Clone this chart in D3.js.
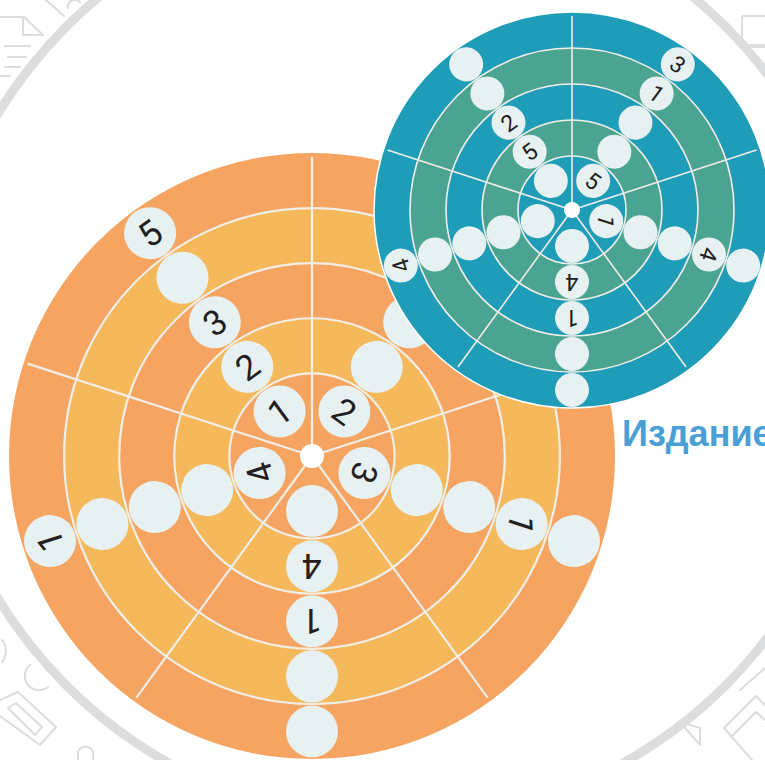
<!DOCTYPE html>
<html>
<head>
<meta charset="utf-8">
<title>Круговые поля</title>
<style>
  body { margin: 0; background: #fff; }
  svg { display: block; }
  .ring-line { fill: none; }
  .deco { fill: none; stroke: #dcdddf; stroke-linejoin: round; stroke-linecap: round; }
  .peg text { font-family: Roboto, "Liberation Sans", sans-serif; }
</style>
</head>
<body>
<svg width="765" height="760"></svg>
<script src="https://cdn.jsdelivr.net/npm/d3@7"></script>
<script>
// ---- data ----
// rays where the pegs sit (degrees clockwise from "up"), halfway between spokes
var rayAngles = [36, 108, 180, 252, 324];
// spokes between the sectors
var spokeAngles = [0, 72, 144, 216, 288];
// peg steps along each ray (1 = inner disc ... 5 = outer ring)
var pegSteps = [1, 2, 3, 4, 5];
// ring borders, in steps
var ringEdges = [1.5, 2.5, 3.5, 4.5];
// bands from the outside in, in steps
var bandOuter = [5.5, 4.5, 3.5, 2.5, 1.5];

// labels on each ray, inner to outer ("" = empty peg)
var orangeLabels = [
  ["2", "", "", "", ""],
  ["3", "", "", "1", ""],
  ["", "4", "1", "", ""],
  ["4", "", "", "", "1"],
  ["1", "2", "3", "", "5"]
];
var tealLabels = [
  ["5", "", "", "1", "3"],
  ["1", "", "", "4", ""],
  ["", "4", "1", "", ""],
  ["", "", "", "", "4"],
  ["", "5", "2", "", ""]
];

var svg = d3.select("svg");

// background decoration: big gray ring and faint icons
var deco = svg.append("g");
deco.append("circle")
    .attr("cx", 396).attr("cy", 356).attr("r", 466)
    .attr("fill", "none").attr("stroke", "#dcdddf").attr("stroke-width", 9);
var decoPaths = [
  "M0,17 L24,17 L43,35 L23,35 L23,17",
  "M5,46 L30,46 M8,57 L26,57 M5,67 L20,67 M0,76 L10,76",
  "M46,0 L64,16",
  "M68,8 a7,7 0 0 1 12,-6",
  "M2,640 a10,14 0 0 1 0,22",
  "M30,665 a12,12 0 0 0 18,22",
  "M0,700 L18,692 L56,727 L40,745 L0,716",
  "M8,708 L16,703 L42,727 L35,735 Z",
  "M78,760 L78,752 a8,8 0 0 1 15,0 L93,760",
  "M680,722 L700,728 L700,745 Z",
  "M740,690 L765,668 M724,728 L756,696 L765,705 M724,728 L752,760 M732,736 L756,712 L765,720",
  "M742,16 L765,16 M742,16 L742,45 L765,45 M748,47 L765,47"
];
deco.selectAll("path.deco").data(decoPaths).enter().append("path")
    .attr("class", "deco")
    .attr("stroke-width", 2)
    .attr("d", function(d) { return d; });

// draws one round board
function drawBoard(cfg) {
  var g = svg.append("g")
      .attr("transform", "translate(" + cfg.cx + "," + cfg.cy + ")");

  // radial scale: steps -> pixels
  var r = d3.scaleLinear().domain([0, 5.5]).range([0, cfg.R]);
  var toRad = function(a) { return a * Math.PI / 180; };

  g.selectAll("circle.band").data(bandOuter).enter().append("circle")
      .attr("class", "band")
      .attr("r", function(d) { return r(d); })
      .attr("fill", function(d, i) { return i % 2 === 0 ? cfg.colA : cfg.colB; })
      .attr("stroke", function(d, i) { return i === 0 ? cfg.rim : "none"; })
      .attr("stroke-width", cfg.rimWidth);

  g.selectAll("circle.ring-line").data(ringEdges).enter().append("circle")
      .attr("class", "ring-line")
      .attr("r", function(d) { return r(d); })
      .attr("stroke", "#f1eee8")
      .attr("stroke-width", cfg.lineW);

  g.selectAll("line.spoke").data(spokeAngles).enter().append("line")
      .attr("class", "spoke")
      .attr("x1", 0).attr("y1", 0)
      .attr("x2", function(a) { return Math.sin(toRad(a)) * (cfg.R - cfg.spokeGap); })
      .attr("y2", function(a) { return -Math.cos(toRad(a)) * (cfg.R - cfg.spokeGap); })
      .attr("stroke", "#f1eee8")
      .attr("stroke-width", cfg.lineW);

  var pegs = [];
  rayAngles.forEach(function(a, i) {
    pegSteps.forEach(function(s, j) {
      pegs.push({angle: a, step: s, label: cfg.labels[i][j]});
    });
  });

  var peg = g.selectAll("g.peg").data(pegs).enter().append("g")
      .attr("class", "peg")
      .attr("transform", function(d) {
        var x = Math.sin(toRad(d.angle)) * r(d.step),
            y = -Math.cos(toRad(d.angle)) * r(d.step);
        return "translate(" + x + "," + y + ") rotate(" + d.angle + ")";
      });

  peg.append("circle")
      .attr("r", cfg.pegR)
      .attr("fill", "#e7f1f1");

  peg.append("text")
      .attr("text-anchor", "middle")
      .attr("dy", "0.36em")
      .attr("font-size", cfg.fontSize)
      .attr("fill", "#231f20")
      .text(function(d) { return d.label; });

  g.append("circle")
      .attr("r", cfg.hub)
      .attr("fill", "#fff");
}

drawBoard({cx: 312, cy: 456, R: 303, colA: "#f5a561", colB: "#f5b85b",
           rim: "none", rimWidth: 0, lineW: 2.2, spokeGap: 4,
           pegR: 26, fontSize: 35, hub: 12, labels: orangeLabels});

drawBoard({cx: 572, cy: 210, R: 198, colA: "#1e9cb8", colB: "#4ba391",
           rim: "#ffffff", rimWidth: 1.5, lineW: 1.6, spokeGap: 4,
           pegR: 17, fontSize: 23, hub: 8, labels: tealLabels});

svg.append("text")
    .attr("x", 622)
    .attr("y", 446)
    .attr("font-family", "'Liberation Sans', Arial, sans-serif")
    .attr("font-weight", "bold")
    .attr("font-size", 36)
    .attr("fill", "#4a9fd6")
    .text("Издание");
</script>
</body>
</html>
